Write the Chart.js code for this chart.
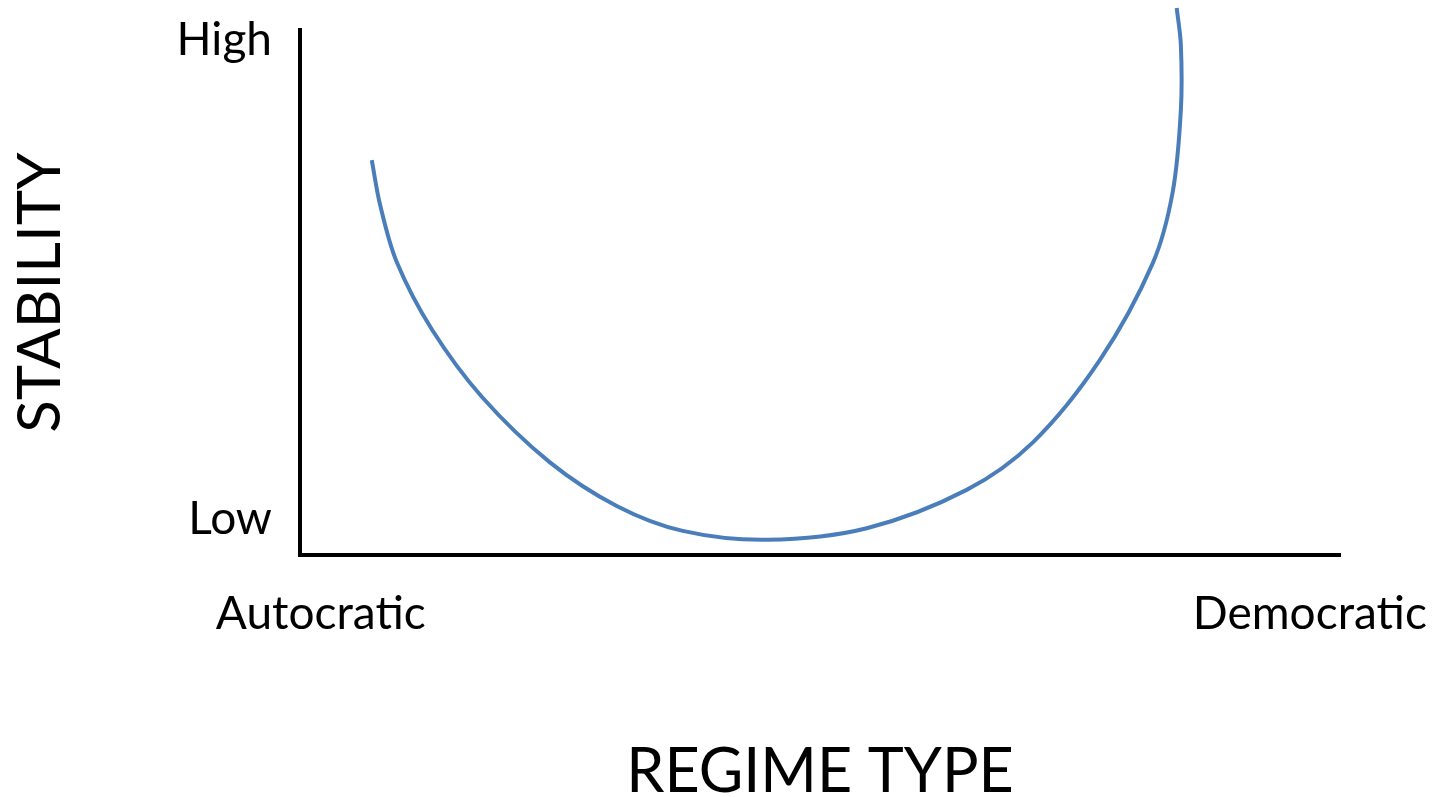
<!DOCTYPE html>
<html>
<head>
<meta charset="utf-8">
<title>Stability by regime type</title>
<script src="https://cdn.jsdelivr.net/npm/chart.js@4.4.1/dist/chart.umd.min.js"></script>
<style>
  html, body { margin: 0; padding: 0; background: #fff; }
  #wrap { width: 1447px; height: 797px; }
</style>
</head>
<body>
<div id="wrap"><canvas id="chart" width="1447" height="797"></canvas></div>
<script>
// curve (x = regime type 0..10, y = stability 0..10)
const curveX = [0.69, 0.77, 0.93, 1.27, 1.75, 2.40, 3.05, 3.68, 4.49, 5.45,
                6.41, 7.05, 7.69, 8.20, 8.39, 8.47, 8.47, 8.43];
const curveY = [7.52, 6.67, 5.58, 4.29, 3.01, 1.77, 0.93, 0.46, 0.29, 0.51,
                1.24, 2.15, 3.71, 5.56, 6.90, 8.48, 9.71, 10.42];

const yTickValues = [0.69, 9.81];
const yTickLabels = ['Low', 'High'];
const xTickValues = [0.20, 9.71];
const xTickLabels = ['Autocratic', 'Democratic'];
const xTitle = 'REGIME TYPE';
const yTitle = 'STABILITY';

const FONT = 'Lato, "Open Sans", sans-serif';
const points = curveX.map((x, i) => ({ x: x, y: curveY[i] }));

// keep the plot box where the picture has it: no extra room for edge labels
function noScalePadding(s) {
  s.paddingTop = 0;
  s.paddingBottom = 0;
  s.paddingLeft = 0;
  s.paddingRight = 0;
}

new Chart(document.getElementById('chart').getContext('2d'), {
  type: 'scatter',
  data: {
    datasets: [{
      data: points,
      showLine: true,
      borderColor: '#4a7ebb',
      borderWidth: 4,
      pointRadius: 0,
      tension: 0.33,
      clip: false
    }]
  },
  options: {
    responsive: false,
    animation: false,
    devicePixelRatio: 1,
    layout: { padding: { top: 30, right: 107, bottom: 0, left: 0 } },
    plugins: { legend: { display: false }, tooltip: { enabled: false } },
    scales: {
      x: {
        type: 'linear',
        min: 0,
        max: 10,
        grid: { display: false, drawTicks: false },
        border: { display: true, color: '#000', width: 4 },
        afterBuildTicks: s => { s.ticks = xTickValues.map(v => ({ value: v })); },
        afterFit: s => { s.height = 242; noScalePadding(s); },
        ticks: {
          autoSkip: false,
          maxRotation: 0,
          padding: 32,
          color: '#000',
          font: { family: FONT, size: 46 },
          callback: (v, i) => xTickLabels[i]
        },
        title: {
          display: true,
          text: xTitle,
          color: '#000',
          font: { family: FONT, size: 61, lineHeight: 0.8 },
          padding: { top: 0, bottom: 0 }
        }
      },
      y: {
        type: 'linear',
        min: 0,
        max: 10,
        grid: { display: false, drawTicks: false },
        border: { display: true, color: '#000', width: 4 },
        afterBuildTicks: s => { s.ticks = yTickValues.map(v => ({ value: v })); },
        afterFit: s => { s.width = 300; noScalePadding(s); },
        ticks: {
          autoSkip: false,
          padding: 28,
          color: '#000',
          font: { family: FONT, size: 46 },
          callback: (v, i) => yTickLabels[i]
        },
        title: {
          display: true,
          text: yTitle,
          color: '#000',
          font: { family: FONT, size: 60, lineHeight: 1 },
          padding: { top: 11, bottom: 0 }
        }
      }
    }
  }
});
</script>
</body>
</html>
